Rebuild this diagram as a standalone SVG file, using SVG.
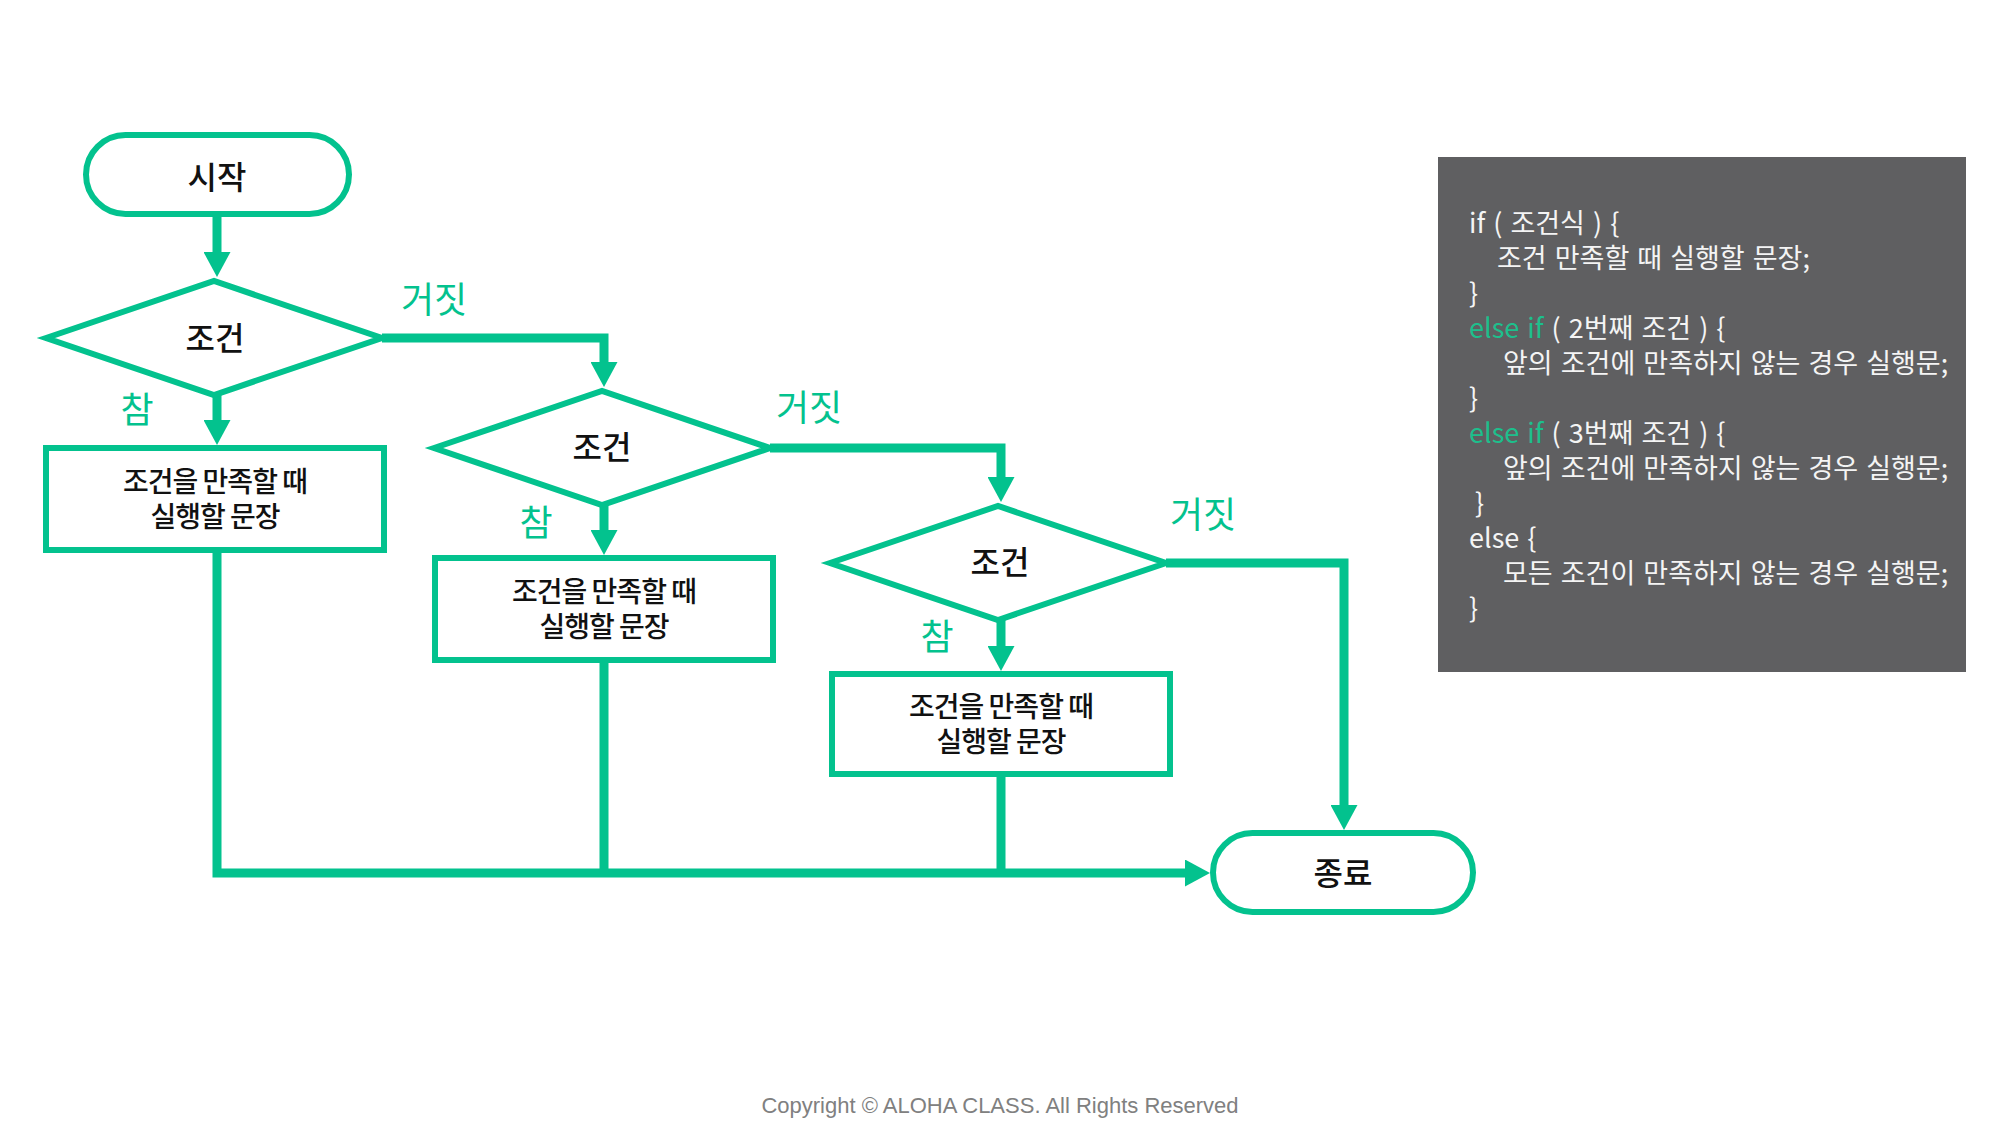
<svg xmlns="http://www.w3.org/2000/svg" width="2000" height="1131" viewBox="0 0 2000 1131">
<style>
.shape{fill:#ffffff;stroke:#03c28e;stroke-width:6;stroke-linejoin:miter;stroke-miterlimit:10}
.conn{fill:none;stroke:#03c28e;stroke-width:9;stroke-linejoin:miter}
.lbl{font-family:"Noto Sans CJK KR","Noto Sans",sans-serif;font-size:36px;fill:#03c28e;text-anchor:middle}
.title{font-family:"Noto Sans CJK KR","Noto Sans",sans-serif;font-size:32px;fill:#111111;text-anchor:middle;font-weight:500}
.body{font-family:"Noto Sans CJK KR","Noto Sans",sans-serif;font-size:28px;fill:#111111;text-anchor:middle;letter-spacing:-1px;font-weight:500}
.code{font-family:"Noto Sans CJK KR","Noto Sans",sans-serif;font-size:27px;fill:#f4f4f4;word-spacing:2px}
.kw{fill:#1dbf8c}
.copy{font-family:"Liberation Sans",Arial,sans-serif;font-size:22px;fill:#808080;text-anchor:middle}
</style>
<defs>
<marker id="arr" viewBox="0 0 25 27" markerWidth="25" markerHeight="27" refX="5" refY="13.5" orient="auto" markerUnits="userSpaceOnUse">
<path d="M0,0 L25,13.5 L0,27 Z" fill="#03c28e"/>
</marker>
</defs>
<rect width="2000" height="1131" fill="#ffffff"/>

<g id="connectors">
<path class="conn" d="M217,214 V257" marker-end="url(#arr)"/>
<path class="conn" d="M217,395 V425" marker-end="url(#arr)"/>
<path class="conn" d="M382,338 H604 V367" marker-end="url(#arr)"/>
<path class="conn" d="M604,505 V535" marker-end="url(#arr)"/>
<path class="conn" d="M770,448 H1001 V482" marker-end="url(#arr)"/>
<path class="conn" d="M1001,620 V651" marker-end="url(#arr)"/>
<path class="conn" d="M1166,563 H1344 V810" marker-end="url(#arr)"/>
<path class="conn" d="M217,550 V873 H1190" marker-end="url(#arr)"/>
<path class="conn" d="M604,660 V873"/>
<path class="conn" d="M1001,774 V873"/>
<text class="lbl" x="137" y="423">참</text>
<text class="lbl" x="536" y="536">참</text>
<text class="lbl" x="937" y="650">참</text>
<text class="lbl" x="434" y="313">거짓</text>
<text class="lbl" x="809" y="421">거짓</text>
<text class="lbl" x="1203" y="528">거짓</text>
</g>

<g id="start">
<rect class="shape" x="86" y="135" width="263" height="79" rx="39.5"/>
<text class="title" x="217" y="189">시작</text>
</g>

<g id="cond1">
<polygon class="shape" points="46,338 214,281 382,338 214,395"/>
<text class="title" x="215" y="350">조건</text>
</g>
<g id="stmt1">
<rect class="shape" x="46" y="448" width="338" height="102"/>
<text class="body" x="215" y="492">조건을 만족할 때</text>
<text class="body" x="215" y="527">실행할 문장</text>
</g>

<g id="cond2">
<polygon class="shape" points="434,448 602,391 770,448 602,505"/>
<text class="title" x="602" y="459">조건</text>
</g>
<g id="stmt2">
<rect class="shape" x="435" y="558" width="338" height="102"/>
<text class="body" x="604" y="602">조건을 만족할 때</text>
<text class="body" x="604" y="637">실행할 문장</text>
</g>

<g id="cond3">
<polygon class="shape" points="830,563 998,506 1166,563 998,620"/>
<text class="title" x="1000" y="574">조건</text>
</g>
<g id="stmt3">
<rect class="shape" x="832" y="674" width="338" height="100"/>
<text class="body" x="1001" y="717">조건을 만족할 때</text>
<text class="body" x="1001" y="752">실행할 문장</text>
</g>

<g id="end">
<rect class="shape" x="1213" y="833" width="260" height="79" rx="39.5"/>
<text class="title" x="1343" y="885">종료</text>
</g>

<g id="code">
<rect x="1438" y="157" width="528" height="515" fill="#5f5f61"/>
<text class="code" x="1469" y="233">if ( 조건식 ) {</text>
<text class="code" x="1497" y="268">조건 만족할 때 실행할 문장;</text>
<text class="code" x="1469" y="303">}</text>
<text class="code" x="1469" y="338"><tspan class="kw">else if</tspan> ( 2번째 조건 ) {</text>
<text class="code" x="1503" y="373">앞의 조건에 만족하지 않는 경우 실행문;</text>
<text class="code" x="1469" y="408">}</text>
<text class="code" x="1469" y="443"><tspan class="kw">else if</tspan> ( 3번째 조건 ) {</text>
<text class="code" x="1503" y="478">앞의 조건에 만족하지 않는 경우 실행문;</text>
<text class="code" x="1475" y="513">}</text>
<text class="code" x="1469" y="548">else {</text>
<text class="code" x="1503" y="583">모든 조건이 만족하지 않는 경우 실행문;</text>
<text class="code" x="1469" y="618">}</text>
</g>

<text class="copy" x="1000" y="1113">Copyright © ALOHA CLASS. All Rights Reserved</text>
</svg>
